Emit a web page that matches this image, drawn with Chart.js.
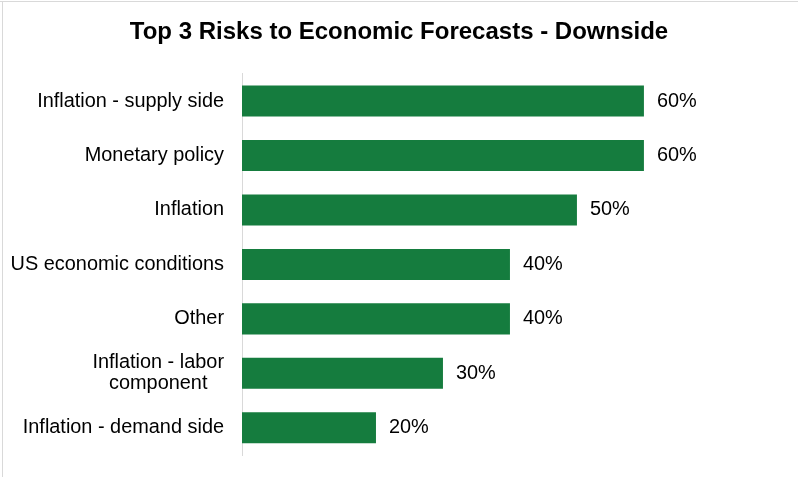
<!DOCTYPE html>
<html>
<head>
<meta charset="utf-8">
<script src="https://cdn.jsdelivr.net/npm/chart.js@4.4.0/dist/chart.umd.min.js"></script>
<style>
  html, body { margin: 0; padding: 0; background: #fff; }
  #wrap { width: 798px; height: 477px; }
</style>
</head>
<body>
<div id="wrap"><canvas id="risks" width="798" height="477"></canvas></div>
<script>
// risks and share of respondents
const categories = [
  'Inflation - supply side',
  'Monetary policy',
  'Inflation',
  'US economic conditions',
  'Other',
  ['Inflation - labor', 'component'],
  'Inflation - demand side'
];
const shares = [0.6, 0.6, 0.5, 0.4, 0.4, 0.3, 0.2];

const GREEN = 'rgb(21, 124, 62)';
const LABEL_FONT = '19.9px "Liberation Sans", Arial, sans-serif';

// thin frame on top and left edges
const frame = {
  id: 'frame',
  beforeDraw(chart) {
    const ctx = chart.ctx;
    ctx.save();
    ctx.fillStyle = '#d9d9d9';
    ctx.fillRect(0, 1, chart.width, 1);
    ctx.fillRect(2, 1, 1, chart.height);
    ctx.restore();
  }
};

// category names (block right aligned, lines centred) and % labels
const labels = {
  id: 'labels',
  afterDatasetsDraw(chart) {
    const ctx = chart.ctx;
    const y = chart.scales.y;
    const meta = chart.getDatasetMeta(0);
    ctx.save();
    ctx.font = LABEL_FONT;
    ctx.fillStyle = '#000';
    ctx.textBaseline = 'middle';

    chart.data.labels.forEach((lab, i) => {
      const lines = Array.isArray(lab) ? lab : [lab];
      const cy = y.getPixelForValue(i);
      const widest = Math.max(...lines.map(l => ctx.measureText(l).width));
      const cx = chart.chartArea.left - 18 - widest / 2;
      const lh = 21;
      ctx.textAlign = 'center';
      lines.forEach((l, k) => {
        ctx.fillText(l, cx, cy + (k - (lines.length - 1) / 2) * lh);
      });
    });

    ctx.textAlign = 'left';
    meta.data.forEach((bar, i) => {
      const v = chart.data.datasets[0].data[i];
      ctx.fillText(Math.round(v * 100) + '%', bar.x + 13, bar.y);
    });
    ctx.restore();
  }
};

new Chart(document.getElementById('risks'), {
  type: 'bar',
  data: {
    labels: categories,
    datasets: [{
      data: shares,
      backgroundColor: GREEN,
      borderWidth: 0,
      categoryPercentage: 1,
      barPercentage: 0.57
    }]
  },
  options: {
    indexAxis: 'y',
    responsive: false,
    animation: false,
    layout: { padding: { top: 0, right: 0, bottom: 22, left: 0 } },
    scales: {
      x: {
        display: false,
        min: 0,
        max: 0.83
      },
      y: {
        afterFit(scale) { scale.width = 242; },
        grid: { display: false, drawTicks: false },
        border: { display: true, color: '#d9d9d9', width: 1 },
        ticks: { display: false }
      }
    },
    plugins: {
      legend: { display: false },
      tooltip: { enabled: false },
      title: {
        display: true,
        text: 'Top 3 Risks to Economic Forecasts - Downside',
        color: '#000',
        font: { family: '"Liberation Sans", Arial, sans-serif', size: 24, weight: 'bold' },
        padding: { top: 18, bottom: 27 }
      }
    }
  },
  plugins: [frame, labels]
});
</script>
</body>
</html>
